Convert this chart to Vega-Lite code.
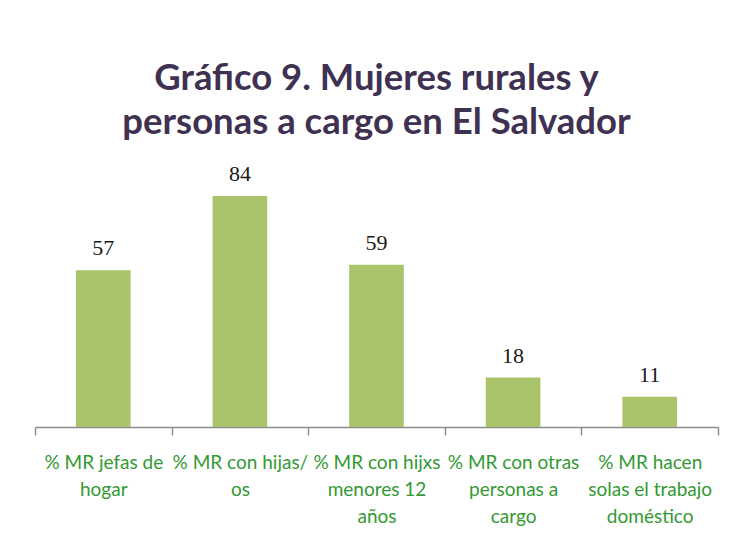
{
  "$schema": "https://vega.github.io/schema/vega-lite/v6.json",
  "width": 683,
  "height": 275,
  "autosize": {"type": "none"},
  "padding": {"left": 35, "top": 152, "right": 15, "bottom": 116},
  "background": "white",
  "config": {"view": {"stroke": null}},
  "title": {
    "text": ["Gráfico 9. Mujeres rurales y", "personas a cargo en El Salvador"],
    "font": "Lato",
    "fontSize": 36.5,
    "fontWeight": "bold",
    "color": "#3f3151",
    "anchor": "middle",
    "lineHeight": 44,
    "offset": 11
  },
  "data": {
    "values": [
      {"categoria": "% MR jefas de|hogar", "valor": 57},
      {"categoria": "% MR con hijas/|os", "valor": 84},
      {"categoria": "% MR con hijxs|menores 12|años", "valor": 59},
      {"categoria": "% MR con otras|personas a|cargo", "valor": 18},
      {"categoria": "% MR hacen|solas el trabajo|doméstico", "valor": 11}
    ]
  },
  "encoding": {
    "x": {
      "field": "categoria",
      "type": "nominal",
      "sort": null,
      "scale": {"paddingInner": 0, "paddingOuter": 0},
      "axis": {
        "title": null,
        "labelAngle": 0,
        "labelExpr": "split(datum.label, '|')",
        "labelFont": "Lato",
        "labelFontSize": 19,
        "labelColor": "#339933",
        "labelLineHeight": 27,
        "labelPadding": 18,
        "labelLimit": 0,
        "tickBand": "extent",
        "tickSize": 8,
        "tickColor": "#8c8c8c",
        "tickWidth": 1.5,
        "domainColor": "#8c8c8c",
        "domainWidth": 1.5
      }
    },
    "y": {
      "field": "valor",
      "type": "quantitative",
      "scale": {"domain": [0, 100]},
      "axis": null
    }
  },
  "layer": [
    {"mark": {"type": "bar", "color": "#a9c46a", "width": {"band": 0.4}}},
    {
      "mark": {
        "type": "text",
        "font": "Liberation Serif",
        "fontSize": 22,
        "color": "#1a1a1a",
        "baseline": "alphabetic",
        "dy": -15
      },
      "encoding": {"text": {"field": "valor", "type": "quantitative"}}
    }
  ]
}
